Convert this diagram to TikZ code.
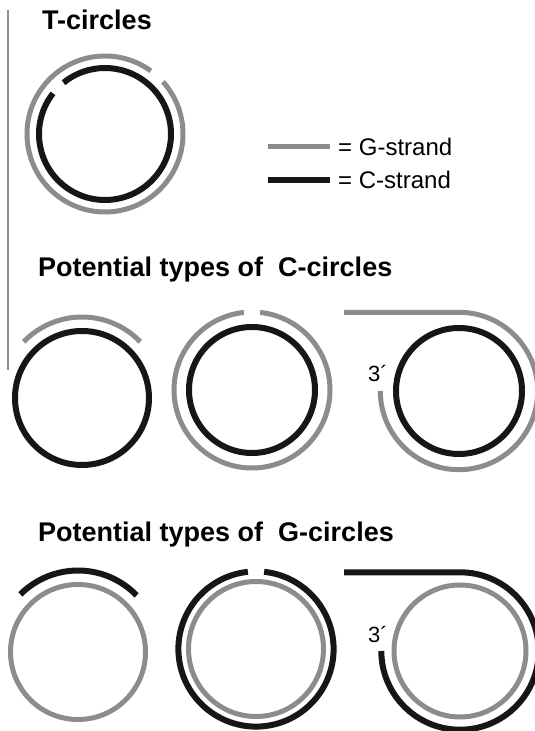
\documentclass[tikz,border=0pt]{standalone}
\usepackage{fontspec}
\setmainfont{Liberation Sans}
\definecolor{gstrandgray}{HTML}{8C8C8C}
\definecolor{cstrandblack}{HTML}{161616}
\begin{document}
\begin{tikzpicture}[x=1pt,y=1pt]
			\tikzstyle{every node}+=[inner sep=0pt,anchor=base west]
			\tikzstyle{gstrand}=[draw=gstrandgray,line width=5pt]
			\tikzstyle{cstrand}=[draw=cstrandblack,line width=6pt]
			\tikzstyle{heading}=[font=\bfseries\fontsize{27}{30}\selectfont]
			\tikzstyle{keylabel}=[font=\fontsize{24}{26}\selectfont]
			\tikzstyle{endlabel}=[font=\fontsize{22}{24}\selectfont]
			\useasboundingbox (0,0) rectangle (535,731);
			\draw [gstrandgray,line width=1.5pt] (8,721) -- (8,361);
			% T-circles
			\node [heading] (ttitle) at (42,701) {T-circles};
			\coordinate (t) at (105,597);
			\draw [gstrand] ([shift={(54:78)}]t) arc (54:402:78);
			\draw [cstrand] ([shift={(142:66)}]t) arc (142:489:66);
			% legend
			\coordinate (gleft) at (268,584);
			\coordinate (gright) at (330,584);
			\coordinate (cleft) at (268,551);
			\coordinate (cright) at (330,551);
			\draw [gstrand] (gleft) -- (gright);
			\draw [cstrand] (cleft) -- (cright);
			\node [keylabel] (glabel) at (338,575.5) {= G-strand};
			\node [keylabel] (clabel) at (338,542.5) {= C-strand};
			% C-circles
			\node [heading] (ctitle) at (38,454) {Potential types of \ C-circles};
			\coordinate (c1) at (82,333);
			\coordinate (c2) at (252,341);
			\coordinate (c3) at (459,340);
			\draw [cstrand] (c1) circle (67);
			\draw [gstrand] ([shift={(44:81)}]c1) arc (44:136:81);
			\draw [cstrand] (c2) circle (63);
			\draw [gstrand] ([shift={(96:78)}]c2) arc (96:444:78);
			\draw [cstrand] (c3) circle (63);
			\draw [gstrand] (344,418.7) -- ([shift={(0,78.7)}]c3) arc (90:-180:78.7);
			\node [endlabel] (cthree) at (368,349) {3´};
			% G-circles
			\node [heading] (gtitle) at (38,189) {Potential types of \ G-circles};
			\coordinate (g1) at (78,79);
			\coordinate (g2) at (256,82);
			\coordinate (g3) at (460,80);
			\draw [gstrand] (g1) circle (67.5);
			\draw [cstrand] ([shift={(44:81.5)}]g1) arc (44:135:81.5);
			\draw [gstrand] (g2) circle (67.5);
			\draw [cstrand] ([shift={(96:77.6)}]g2) arc (96:444:77.6);
			\draw [gstrand] (g3) circle (66);
			\draw [cstrand] (344,158.7) -- ([shift={(0,78.7)}]g3) arc (90:-180:78.7);
			\node [endlabel] (gthree) at (368,88) {3´};
		\end{tikzpicture}
\end{document}
